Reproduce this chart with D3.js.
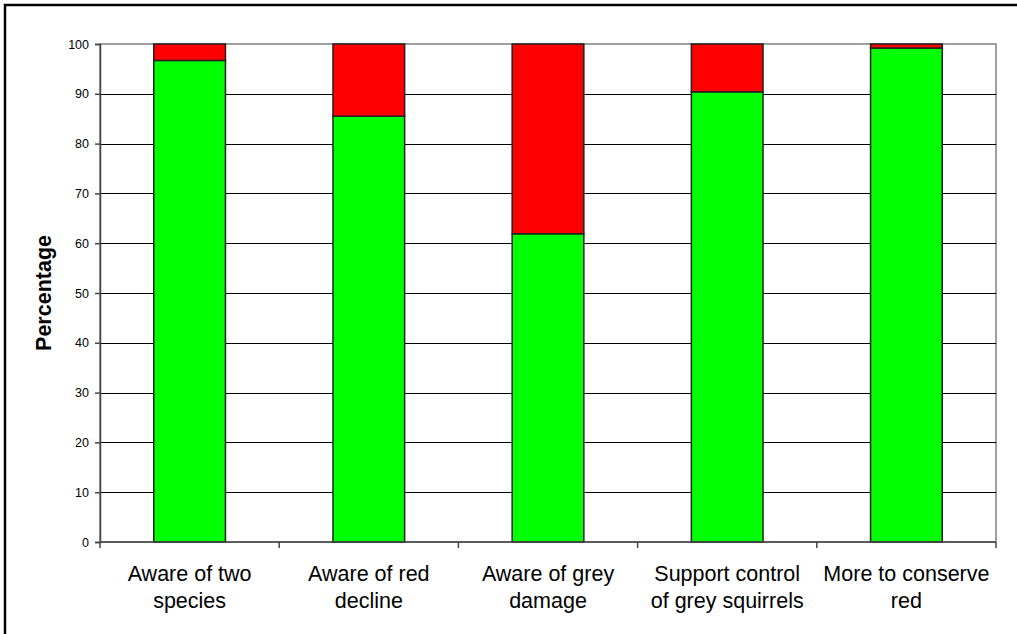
<!DOCTYPE html>
<html>
<head>
<meta charset="utf-8">
<script src="https://cdn.jsdelivr.net/npm/d3@7"></script>
<style>
  html, body { margin: 0; padding: 0; background: #fff; }
  svg { display: block; font-family: "Liberation Sans", Arial, sans-serif; }
</style>
</head>
<body>
<svg id="chart" width="1017" height="634"></svg>
<script>
// Survey responses: share agreeing (green) and not (red), per question
const categories = [
  ["Aware of two", "species"],
  ["Aware of red", "decline"],
  ["Aware of grey", "damage"],
  ["Support control", "of grey squirrels"],
  ["More to conserve", "red"]
];
const yesValues = [96.7, 85.5, 61.9, 90.4, 99.2];
const noValues = [3.3, 14.5, 38.1, 9.6, 0.8];
const yTicks = [0, 10, 20, 30, 40, 50, 60, 70, 80, 90, 100];
const yTitle = "Percentage";

const svg = d3.select("#chart");
const plot = { left: 100, top: 44, right: 996, bottom: 542 };

// Outer chart frame (extends past the right/bottom edge of the canvas)
svg.append("rect")
  .attr("x", 5).attr("y", 5)
  .attr("width", 1030).attr("height", 650)
  .attr("fill", "none").attr("stroke", "#000").attr("stroke-width", 2.5);

const x = d3.scaleBand()
  .domain(d3.range(categories.length))
  .range([plot.left, plot.right])
  .paddingInner(0.6).paddingOuter(0.3);

const y = d3.scaleLinear().domain([0, 100]).range([plot.bottom, plot.top]);

// Plot area border (top and right in grey)
svg.append("rect")
  .attr("x", plot.left).attr("y", plot.top)
  .attr("width", plot.right - plot.left).attr("height", plot.bottom - plot.top)
  .attr("fill", "#fff").attr("stroke", "#808080").attr("stroke-width", 1.5);

// Horizontal gridlines
svg.append("g")
  .selectAll("line")
  .data(yTicks.filter(t => t > 0 && t < 100))
  .join("line")
  .attr("x1", plot.left).attr("x2", plot.right)
  .attr("y1", d => Math.round(y(d)) + 0.5).attr("y2", d => Math.round(y(d)) + 0.5)
  .attr("stroke", "#000").attr("stroke-width", 1);

// Stacked bars
const stackData = categories.map((c, i) => ({ i, yes: yesValues[i], no: noValues[i] }));
const series = d3.stack().keys(["yes", "no"])(stackData);
const colors = { yes: "#00ff00", no: "#ff0000" };

svg.append("g")
  .selectAll("g")
  .data(series)
  .join("g")
  .attr("fill", d => colors[d.key])
  .selectAll("rect")
  .data(d => d)
  .join("rect")
  .attr("x", d => x(d.data.i))
  .attr("width", x.bandwidth())
  .attr("y", d => y(d[1]))
  .attr("height", d => y(d[0]) - y(d[1]))
  .attr("stroke", "#222").attr("stroke-width", 1.5);

// Y axis
const yAxis = d3.axisLeft(y).tickValues(yTicks).tickSize(5).tickPadding(6);
const gy = svg.append("g")
  .attr("transform", `translate(${plot.left},0)`)
  .call(yAxis);
gy.select(".domain").attr("stroke", "#444").attr("stroke-width", 1.5);
gy.selectAll(".tick line").attr("stroke", "#444").attr("stroke-width", 1.5);
gy.selectAll(".tick text")
  .attr("font-size", 12.5)
  .attr("font-family", "Liberation Sans, Arial, sans-serif")
  .attr("fill", "#000");

// X axis: ticks between categories
const xEdges = d3.scaleLinear().domain([0, categories.length]).range([plot.left, plot.right]);
const gx = svg.append("g");
gx.append("line")
  .attr("x1", plot.left).attr("x2", plot.right)
  .attr("y1", plot.bottom).attr("y2", plot.bottom)
  .attr("stroke", "#444").attr("stroke-width", 1.5);
gx.selectAll("line.tk")
  .data(d3.range(categories.length + 1))
  .join("line")
  .attr("class", "tk")
  .attr("x1", d => xEdges(d)).attr("x2", d => xEdges(d))
  .attr("y1", plot.bottom).attr("y2", plot.bottom + 6)
  .attr("stroke", "#444").attr("stroke-width", 1.5);

// Category labels (two lines each)
const lab = svg.append("g")
  .selectAll("text")
  .data(categories)
  .join("text")
  .attr("text-anchor", "middle")
  .attr("font-size", 21.5)
  .attr("fill", "#000")
  .attr("transform", (d, i) => `translate(${xEdges(i + 0.5)},581)`);
lab.selectAll("tspan")
  .data(d => d)
  .join("tspan")
  .attr("x", 0)
  .attr("dy", (d, j) => j === 0 ? 0 : 26.5)
  .text(d => d);

// Y axis title
svg.append("text")
  .attr("transform", `translate(51,${(plot.top + plot.bottom) / 2}) rotate(-90)`)
  .attr("text-anchor", "middle")
  .attr("font-size", 21.5)
  .attr("font-weight", "bold")
  .attr("fill", "#000")
  .text(yTitle);
</script>
</body>
</html>
